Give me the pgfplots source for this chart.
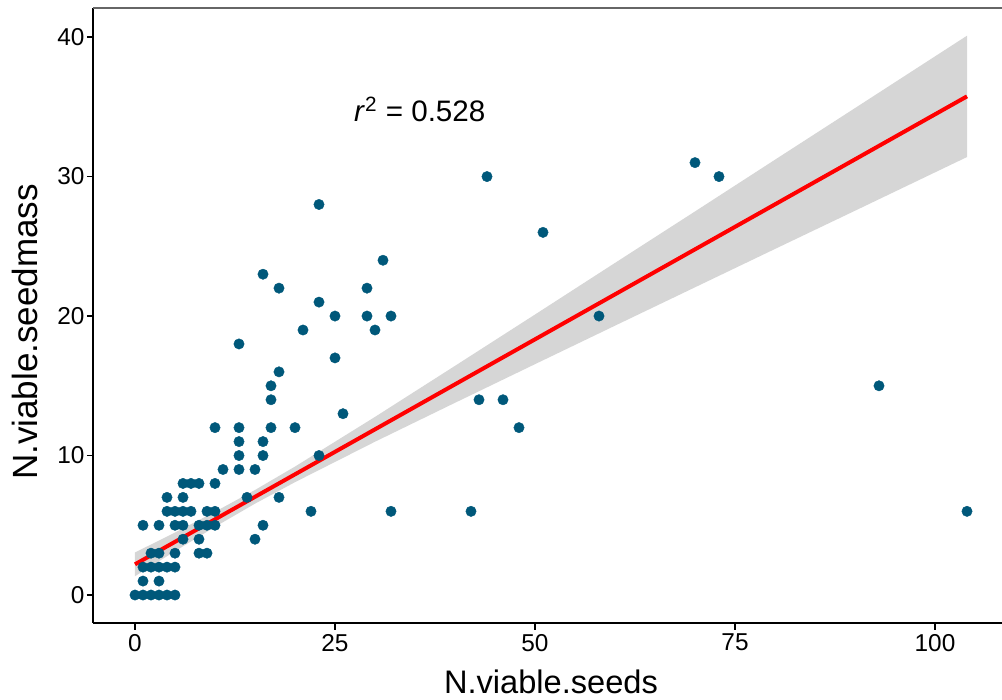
\documentclass[border=0pt]{standalone}
\usepackage{fontspec}
\setmainfont{Liberation Sans}
\usepackage{pgfplots}
\pgfplotsset{compat=1.18}
\definecolor{ptc}{RGB}{0,88,122}
\definecolor{ribc}{RGB}{153,153,153}
\begin{document}
\begin{tikzpicture}
\begin{axis}[
  scale only axis, width=457.6pt, height=307.6pt,
  xmin=-5.2, xmax=109.2, ymin=-2.005, ymax=42.1,
  clip=false,
  axis x line*=bottom, axis y line*=left,
  axis line style={line width=1pt, -},
  xtick={0,25,50,75,100}, ytick={0,10,20,30,40},
  tick align=outside, major tick length=3.3pt,
  tick style={line width=0.8pt, black},
  /pgf/number format/assume math mode=true,
  every tick label/.append style={font=\fontsize{12.2}{14}\selectfont},
  yticklabel style={anchor=east, inner sep=0pt, xshift=-1pt},
  xticklabel style={anchor=north, inner sep=0pt, yshift=-2pt},
  xlabel={N.viable.seeds}, ylabel={N.viable.seedmass},
  every axis x label/.style={at={(axis description cs:0.5,-0.0755)}, anchor=north, inner sep=0pt, font=\fontsize{16.3}{19}\selectfont},
  every axis y label/.style={at={(axis description cs:-0.0605,0.473)}, rotate=90, anchor=south, inner sep=0pt, font=\fontsize{17.5}{20}\selectfont},
]
\addplot[only marks, mark=*, mark size=2.6pt, mark options={draw=ptc, fill=ptc, line width=0.2pt}] table {
x y
0 0
1 0
2 0
3 0
4 0
5 0
1 1
3 1
1 2
2 2
3 2
4 2
5 2
2 3
3 3
5 3
8 3
9 3
6 4
8 4
15 4
1 5
3 5
5 5
6 5
8 5
9 5
10 5
16 5
4 6
5 6
6 6
7 6
9 6
10 6
22 6
32 6
42 6
104 6
4 7
6 7
14 7
18 7
6 8
7 8
8 8
10 8
11 9
13 9
15 9
13 10
16 10
23 10
13 11
16 11
10 12
13 12
17 12
20 12
48 12
26 13
17 14
43 14
46 14
17 15
93 15
18 16
25 17
13 18
21 19
30 19
25 20
29 20
32 20
58 20
23 21
18 22
29 22
16 23
31 24
51 26
23 28
44 30
73 30
70 31
};
\addplot[fill=ribc, fill opacity=0.4, draw=none] coordinates {
(0,3.05) (5,4.48) (10,5.97) (15,7.53) (20,9.21) (30,12.77) (40,16.43) (50,20.11) (60,23.81) (70,27.50) (80,31.21) (90,34.91) (104,40.10)
(104,31.40) (90,27.55) (80,24.81) (70,22.06) (60,19.31) (50,16.55) (40,13.78) (30,10.99) (20,8.09) (15,6.55) (10,4.89) (5,3.14) (0,1.35)} -- cycle;
\addplot[red, line width=2pt] coordinates {(0,2.20) (104,35.75)};
\draw[black!60, line width=1pt] (rel axis cs:0,1) -- (rel axis cs:1,1);
\node[font=\fontsize{14.8}{17}\selectfont, anchor=center] at (axis cs:35.6,34.8) {\textit{r}\textsuperscript{2} = 0.528};
\end{axis}
\pgfresetboundingbox
\useasboundingbox (-46.7pt,-38.5pt) rectangle (454.3pt,311.5pt);
\end{tikzpicture}
\end{document}
